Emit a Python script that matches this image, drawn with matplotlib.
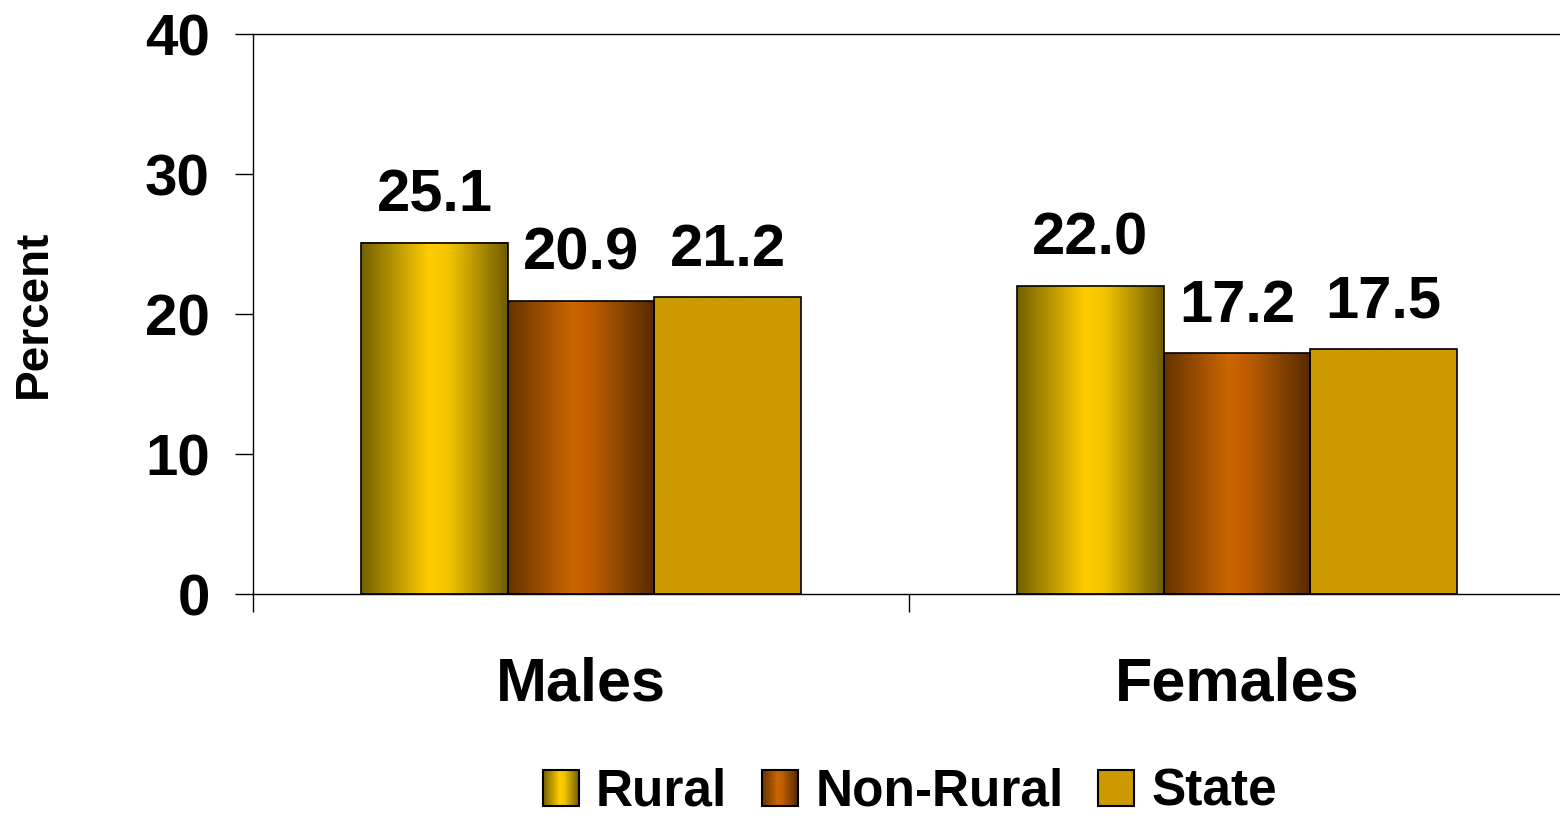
import numpy as np
import matplotlib
matplotlib.use('Agg')
import matplotlib.pyplot as plt
from matplotlib.colors import LinearSegmentedColormap
from matplotlib.patches import Patch, Rectangle

groups = ['Males', 'Females']
series = ['Rural', 'Non-Rural', 'State']
values = {
    'Rural': [25.1, 22.0],
    'Non-Rural': [20.9, 17.2],
    'State': [21.2, 17.5],
}
yticks = [0, 10, 20, 30, 40]

# horizontal shading of each series (solid for State)
shades = {
    'Rural': [(0.0, '#726000'), (0.46, '#ffcc00'), (0.6, '#f2c400'), (1.0, '#705c00')],
    'Non-Rural': [(0.0, '#663300'), (0.44, '#cc6600'), (0.6, '#b85a00'), (1.0, '#552a00')],
    'State': [(0.0, '#cc9900'), (1.0, '#cc9900')],
}
cmaps = {k: LinearSegmentedColormap.from_list(k, v) for k, v in shades.items()}
grad = np.linspace(0, 1, 256).reshape(1, -1)

plt.rcParams['font.family'] = ['Liberation Sans', 'DejaVu Sans']
plt.rcParams['font.weight'] = 'bold'

fig = plt.figure(figsize=(15.6, 8.16), dpi=100)
ax = fig.add_axes([253 / 1560, 1 - 594 / 816, (1565 - 253) / 1560, 560 / 816])

w = 0.2235
x = np.arange(len(groups)) + 0.5
for i, s in enumerate(series):
    pos = x + (i - 1) * w
    bars = ax.bar(pos, values[s], w, facecolor='none', edgecolor='black',
                  linewidth=1.2, zorder=3)
    for b, v in zip(bars, values[s]):
        x0 = b.get_x()
        ax.imshow(grad, cmap=cmaps[s], aspect='auto', zorder=2,
                  extent=[x0, x0 + w, 0, v], interpolation='bilinear')
        ax.annotate(f'{v:.1f}', (x0 + w / 2, v), xytext=(0, 14),
                    textcoords='offset points', ha='center', va='bottom',
                    fontsize=43, fontweight='bold')

ax.set_xlim(0, 2)
ax.set_ylim(0, 40)
ax.set_yticks(yticks)
ax.set_yticklabels([str(t) for t in yticks], fontsize=42, fontweight='bold')
ax.tick_params(axis='y', direction='out', length=13, width=1, pad=18)
ax.set_xticks(x)
ax.set_xticklabels(groups, fontsize=44, fontweight='bold')
ax.set_xticks([0, 1, 2], minor=True)
ax.tick_params(axis='x', which='major', length=0, pad=45)
ax.tick_params(axis='x', which='minor', direction='out', length=13, width=1)
for sp in ax.spines.values():
    sp.set_linewidth(1)
ax.spines['right'].set_visible(False)
ax.set_ylabel('Percent', fontsize=33, fontweight='bold')
ax.yaxis.set_label_coords(-0.150, 0.5)

handles = [Patch(facecolor='none', edgecolor='none') for s in series]
leg = fig.legend(handles, series, loc='center', bbox_to_anchor=(910 / 1560, 1 - 792 / 816),
                 ncol=3, frameon=False, handlelength=0.7,
                 handleheight=0.7, handletextpad=0.33, columnspacing=0.68,
                 borderpad=0, prop={'weight': 'bold', 'size': 37})

fig.canvas.draw()
inv = fig.transFigure.inverted()
for h, s in zip(leg.legend_handles, series):
    bb = h.get_window_extent().transformed(inv)
    lax = fig.add_axes([bb.x0, bb.y0, bb.width, bb.height])
    lax.imshow(grad, cmap=cmaps[s], aspect='auto', extent=[0, 1, 0, 1],
               interpolation='bilinear')
    lax.add_patch(Rectangle((0, 0), 1, 1, facecolor='none', edgecolor='black',
                            linewidth=1.5, transform=lax.transAxes, clip_on=False))
    lax.set_xlim(0, 1)
    lax.set_ylim(0, 1)
    lax.axis('off')

fig.savefig('out.png', dpi=100)
